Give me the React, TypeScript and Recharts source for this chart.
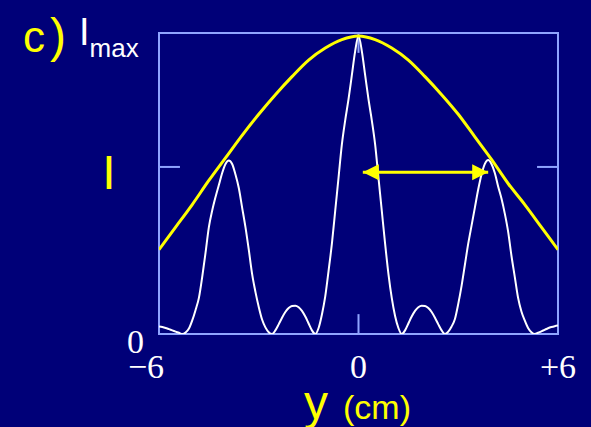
import React from "react"
import { LineChart, Line, XAxis, YAxis, ReferenceArea, ReferenceLine } from "recharts"

// positions across the screen (cm), 0.1 cm apart
const yCm = Array.from({ length: 121 }, (_, i) => Math.round((-6 + i * 0.1) * 10) / 10)

// intensity of the three-slit pattern (fraction of Imax)
const intensity = [
  0.025, 0.023, 0.02, 0.016, 0.012, 0.008, 0.004, 0.0, 0.005, 0.018,
  0.045, 0.08, 0.12, 0.19, 0.27, 0.355, 0.41, 0.455, 0.495, 0.535,
  0.565, 0.576, 0.565, 0.53, 0.485, 0.42, 0.355, 0.28, 0.2, 0.14,
  0.09, 0.048, 0.022, 0.006, 0.0, 0.012, 0.032, 0.054, 0.073, 0.086,
  0.093, 0.094, 0.089, 0.077, 0.058, 0.035, 0.012, 0.0, 0.02, 0.065,
  0.125, 0.21, 0.3, 0.41, 0.52, 0.63, 0.71, 0.78, 0.86, 0.94,
  0.99,
  0.94, 0.86, 0.78, 0.71, 0.63, 0.52, 0.41, 0.3, 0.2, 0.12,
  0.06, 0.02, 0.0, 0.012, 0.035, 0.058, 0.077, 0.089, 0.094, 0.093,
  0.086, 0.073, 0.054, 0.032, 0.012, 0.0, 0.008, 0.025, 0.05, 0.1,
  0.16, 0.23, 0.3, 0.36, 0.42, 0.48, 0.53, 0.565, 0.578, 0.565,
  0.535, 0.49, 0.45, 0.4, 0.34, 0.26, 0.19, 0.12, 0.075, 0.045,
  0.02, 0.006, 0.0, 0.004, 0.009, 0.014, 0.019, 0.023, 0.026, 0.028,
]

// single-slit envelope (yellow)
const envelopeY = [-6, -5.5, -5, -4.5, -4, -3.5, -3, -2.5, -2, -1.5, -1, -0.5, 0, 0.5, 1, 1.5, 2, 2.5, 3, 3.5, 4, 4.5, 5, 5.5, 6]
const envelopeI = [0.28, 0.355, 0.43, 0.51, 0.585, 0.66, 0.73, 0.795, 0.855, 0.91, 0.95, 0.978, 0.99, 0.978, 0.95, 0.91, 0.855, 0.795, 0.73, 0.655, 0.58, 0.5, 0.43, 0.355, 0.28]

// double arrow between the central and first side maximum
const arrowY = [0.13, 3.9]
const arrowI = [0.537, 0.537]

const xTicks = [-6, 0, 6]
const xTickLabels = ["\u22126", "0", "+6"]
const yTicks = [0, 0.555, 1]

const NAVY = "#000078"
const FRAME = "#8fa4ff"
const YELLOW = "#ffff00"

const patternData = yCm.map((y, i) => ({ y, I: intensity[i] }))
const envelopeData = envelopeY.map((y, i) => ({ y, I: envelopeI[i] }))
const arrowData = arrowY.map((y, i) => ({ y, I: arrowI[i] }))

function XTick({ x, y, payload }: any) {
  const idx = xTicks.indexOf(payload.value)
  const dx = payload.value === -6 ? -13 : 0
  return (
    <text x={x + dx} y={y} dy="0.71em" textAnchor="middle" fill="#fff" fontFamily="'Liberation Serif', serif" fontSize={34}>
      {xTickLabels[idx]}
    </text>
  )
}

function YTick({ x, y, payload }: any) {
  if (payload.value === 0) {
    return (
      <text x={x - 15} y={y + 19} textAnchor="end" fill="#fff" fontFamily="'Liberation Serif', serif" fontSize={34}>
        0
      </text>
    )
  }
  if (payload.value === 1) {
    return (
      <text x={x - 80} y={y + 12} fill="#fff" fontFamily="'Liberation Sans', Arial, sans-serif" fontSize={38}>
        I
        <tspan fontSize={26} dy={12}>max</tspan>
      </text>
    )
  }
  return (
    <text x={x - 50} y={y + 22} textAnchor="middle" fill={YELLOW} fontFamily="'Liberation Sans', Arial, sans-serif" fontSize={48}>
      I
    </text>
  )
}

function ArrowHead({ cx, cy, index }: any) {
  if (cx == null || cy == null) return null
  const dir = index === 0 ? 1 : -1
  const pts = `${cx},${cy} ${cx + dir * 16},${cy - 8} ${cx + dir * 16},${cy + 8}`
  return <polygon key={`ah-${index}`} points={pts} fill={YELLOW} stroke="none" />
}

export default function App() {
  return (
    <div style={{ position: "absolute", left: 0, top: 0, width: 591, height: 427, background: NAVY, overflow: "hidden" }}>
      <LineChart width={591} height={427} margin={{ top: 33, right: 33, left: 99, bottom: 43 }}>
        <XAxis
          dataKey="y"
          type="number"
          domain={[-6, 6]}
          ticks={xTicks}
          axisLine={false}
          tickLine={false}
          tickSize={0}
          tickMargin={20}
          height={50}
          tick={<XTick />}
          allowDataOverflow
        />
        <YAxis
          type="number"
          domain={[0, 1]}
          ticks={yTicks}
          axisLine={false}
          tickLine={false}
          tickSize={0}
          tickMargin={0}
          width={60}
          tick={<YTick />}
          allowDataOverflow
        />
        <ReferenceArea x1={-6} x2={6} y1={0} y2={1} fill="none" stroke={FRAME} strokeWidth={2} />
        <ReferenceLine segment={[{ x: -6, y: 0.555 }, { x: -5.37, y: 0.555 }]} stroke={FRAME} strokeWidth={2} />
        <ReferenceLine segment={[{ x: 5.37, y: 0.555 }, { x: 6, y: 0.555 }]} stroke={FRAME} strokeWidth={2} />
        <ReferenceLine segment={[{ x: 0, y: 0 }, { x: 0, y: 0.066 }]} stroke={FRAME} strokeWidth={2} />
        <ReferenceLine segment={[{ x: 0, y: 1 }, { x: 0, y: 0.934 }]} stroke={FRAME} strokeWidth={2} />
        <Line data={patternData} dataKey="I" type="monotone" stroke="#fff" strokeWidth={2} dot={false} activeDot={false} isAnimationActive={false} />
        <Line data={envelopeData} dataKey="I" type="monotone" stroke={YELLOW} strokeWidth={3} dot={false} activeDot={false} isAnimationActive={false} />
        <Line data={arrowData} dataKey="I" type="linear" stroke={YELLOW} strokeWidth={3} dot={(p: any) => <ArrowHead {...p} />} activeDot={false} isAnimationActive={false} />
      </LineChart>
      <svg width={591} height={427} style={{ position: "absolute", left: 0, top: 0, pointerEvents: "none" }}>
        <text x={23} y={52} fill={YELLOW} fontFamily="'Liberation Sans', Arial, sans-serif" fontSize={44}>c</text>
        <text x={50} y={52} fill={YELLOW} fontFamily="'Liberation Sans', Arial, sans-serif" fontSize={48}>)</text>
        <text x={304} y={419} fill={YELLOW} fontFamily="'Liberation Sans', Arial, sans-serif" fontSize={48}>y</text>
        <text x={343} y={419} fill={YELLOW} fontFamily="'Liberation Sans', Arial, sans-serif" fontSize={34}>(cm)</text>
      </svg>
    </div>
  )
}
